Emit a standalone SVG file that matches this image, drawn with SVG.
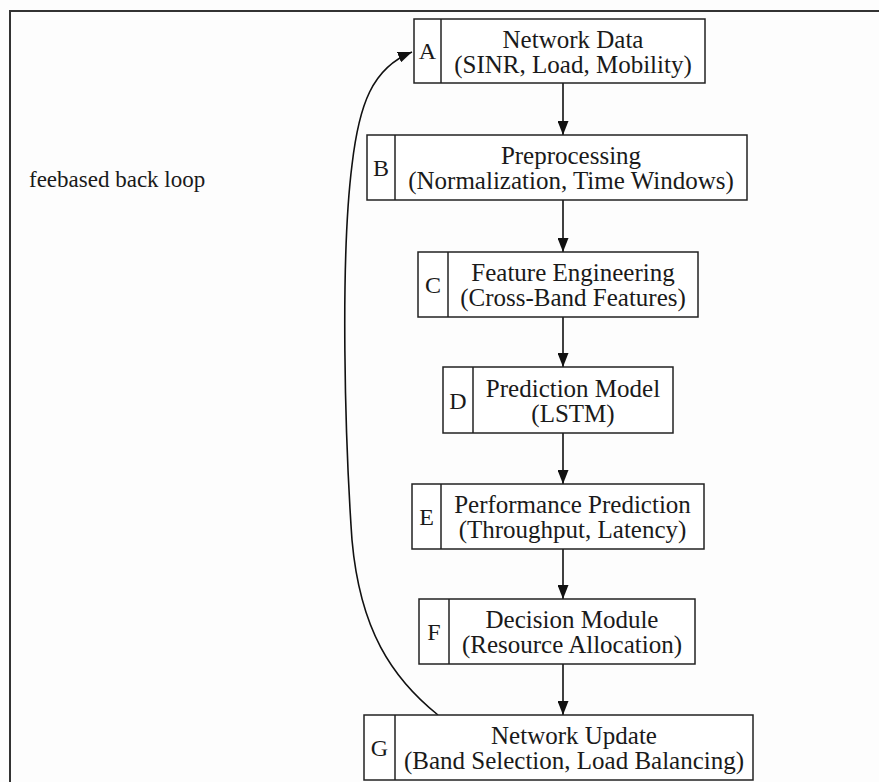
<svg xmlns="http://www.w3.org/2000/svg" width="879" height="782" viewBox="0 0 879 782">
<defs>
<style>
.box{fill:#ffffff;stroke:#222;stroke-width:1.5}
.div{stroke:#222;stroke-width:1.5}
.t{font-family:"Liberation Serif","Times New Roman",serif;font-size:25px;fill:#1a1a1a;text-anchor:middle}
.lab{font-family:"Liberation Serif","Times New Roman",serif;font-size:24px;fill:#1a1a1a;text-anchor:middle}
.edge{fill:none;stroke:#111;stroke-width:1.6}
</style>
<marker id="ah" viewBox="0 0 14 11" refX="14" refY="5.5" markerWidth="14" markerHeight="11" markerUnits="userSpaceOnUse" orient="auto">
<path d="M0,0 L14,5.5 L0,11 Z" fill="#111"/>
</marker>
</defs>
<rect x="0" y="0" width="879" height="782" fill="#fdfdfd"/>
<path d="M10,782 L10,11 L879,11" fill="none" stroke="#333" stroke-width="2"/>
<text x="29" y="187" font-family="Liberation Serif, Times New Roman, serif" font-size="23" fill="#1a1a1a">feebased back loop</text>

<g id="edges">
<line class="edge" x1="563" y1="83" x2="563" y2="135" marker-end="url(#ah)"/>
<line class="edge" x1="563" y1="200" x2="563" y2="252" marker-end="url(#ah)"/>
<line class="edge" x1="563" y1="317" x2="563" y2="367" marker-end="url(#ah)"/>
<line class="edge" x1="563" y1="433" x2="563" y2="484" marker-end="url(#ah)"/>
<line class="edge" x1="563" y1="549" x2="563" y2="599" marker-end="url(#ah)"/>
<line class="edge" x1="563" y1="664" x2="563" y2="715" marker-end="url(#ah)"/>
<path class="edge" d="M438,715 C392,678 360,630 352,540 C345,440 340,260 352,165 C359,105 372,68 412,52" marker-end="url(#ah)"/>
</g>

<g id="A">
<rect class="box" x="414" y="19" width="291" height="64"/>
<line class="div" x1="441" y1="19" x2="441" y2="83"/>
<text class="lab" x="427.5" y="59">A</text>
<text class="t" x="573" y="48">Network Data</text>
<text class="t" x="573" y="73">(SINR, Load, Mobility)</text>
</g>
<g id="B">
<rect class="box" x="367" y="135" width="380" height="65"/>
<line class="div" x1="395" y1="135" x2="395" y2="200"/>
<text class="lab" x="381" y="176">B</text>
<text class="t" x="571" y="164">Preprocessing</text>
<text class="t" x="571" y="189">(Normalization, Time Windows)</text>
</g>
<g id="C">
<rect class="box" x="418" y="252" width="280" height="65"/>
<line class="div" x1="448" y1="252" x2="448" y2="317"/>
<text class="lab" x="433" y="293">C</text>
<text class="t" x="573" y="281">Feature Engineering</text>
<text class="t" x="573" y="306">(Cross-Band Features)</text>
</g>
<g id="D">
<rect class="box" x="443" y="367" width="230" height="66"/>
<line class="div" x1="473" y1="367" x2="473" y2="433"/>
<text class="lab" x="458" y="409">D</text>
<text class="t" x="573" y="397">Prediction Model</text>
<text class="t" x="573" y="422">(LSTM)</text>
</g>
<g id="E">
<rect class="box" x="412" y="484" width="292" height="65"/>
<line class="div" x1="441" y1="484" x2="441" y2="549"/>
<text class="lab" x="426.5" y="525">E</text>
<text class="t" x="572.5" y="513">Performance Prediction</text>
<text class="t" x="572.5" y="538">(Throughput, Latency)</text>
</g>
<g id="F">
<rect class="box" x="419" y="599" width="276" height="65"/>
<line class="div" x1="449" y1="599" x2="449" y2="664"/>
<text class="lab" x="434" y="640">F</text>
<text class="t" x="572" y="628">Decision Module</text>
<text class="t" x="572" y="653">(Resource Allocation)</text>
</g>
<g id="G">
<rect class="box" x="364" y="715" width="389" height="65"/>
<line class="div" x1="395" y1="715" x2="395" y2="780"/>
<text class="lab" x="379.5" y="756">G</text>
<text class="t" x="574" y="744">Network Update</text>
<text class="t" x="574" y="769">(Band Selection, Load Balancing)</text>
</g>
</svg>
